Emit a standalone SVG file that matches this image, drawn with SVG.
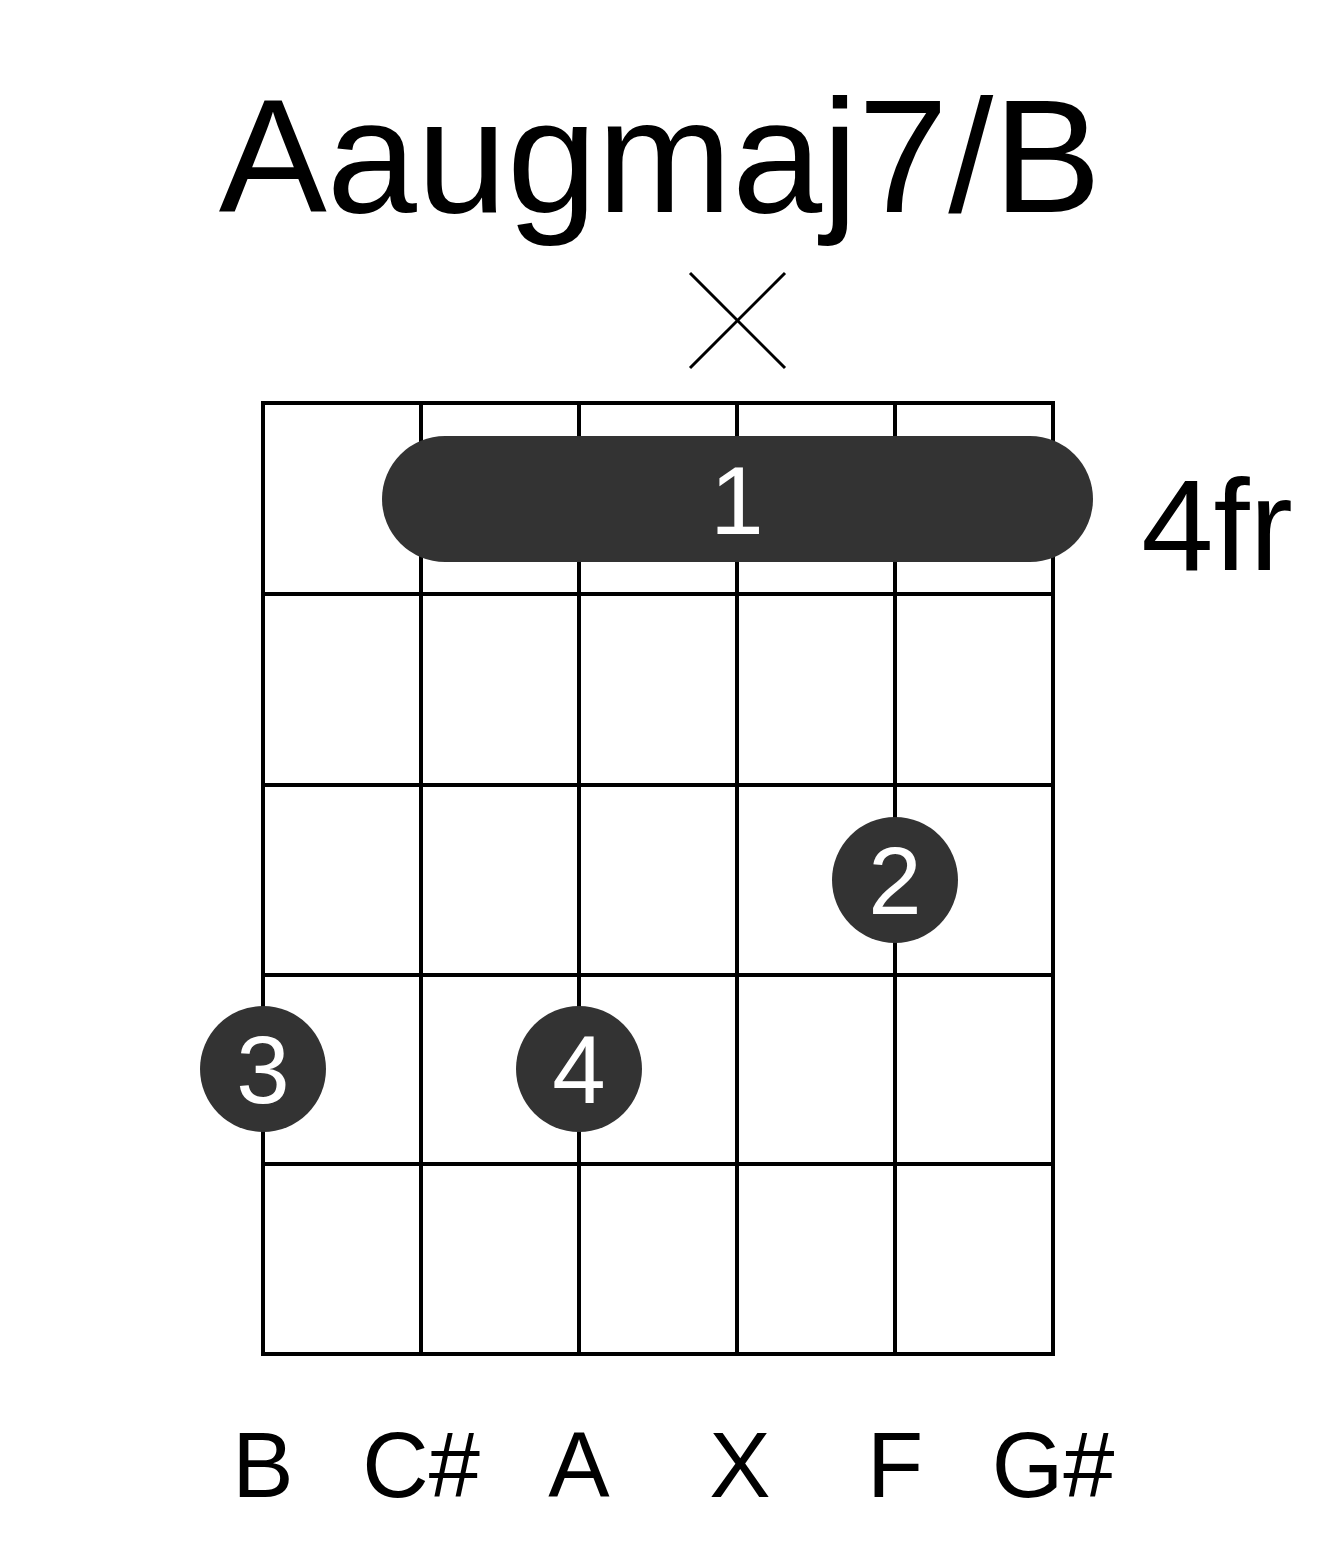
<svg xmlns="http://www.w3.org/2000/svg" width="1317" height="1551" viewBox="0 0 1317 1551">
<style>
.g{stroke:#000;stroke-width:4;fill:none}
.t{font-family:"Liberation Sans",Arial,sans-serif;text-anchor:middle}
.d{fill:#333}
.w{fill:#fff;font-size:96px}
</style>
<rect width="1317" height="1551" fill="#fff"/>
<text class="t" x="660" y="212" font-size="162">Aaugmaj7/B</text>
<g id="grid" class="g">
<rect x="263" y="403" width="790" height="951"/>
<line x1="421" y1="403" x2="421" y2="1354"/><line x1="579" y1="403" x2="579" y2="1354"/><line x1="737" y1="403" x2="737" y2="1354"/><line x1="895" y1="403" x2="895" y2="1354"/>
<line x1="263" y1="594" x2="1053" y2="594"/><line x1="263" y1="785" x2="1053" y2="785"/><line x1="263" y1="975" x2="1053" y2="975"/><line x1="263" y1="1164" x2="1053" y2="1164"/>
</g>
<g id="mute" stroke="#000" stroke-width="3"><line x1="690" y1="273" x2="785" y2="368"/><line x1="785" y1="273" x2="690" y2="368"/></g>
<g id="barre"><rect class="d" x="382" y="436" width="711" height="126" rx="63"/><text class="t w" x="737" y="534">1</text></g>
<g id="f2"><circle class="d" cx="895" cy="880" r="63"/><text class="t w" x="895" y="914">2</text></g>
<g id="f3"><circle class="d" cx="263" cy="1069" r="63"/><text class="t w" x="263" y="1103">3</text></g>
<g id="f4"><circle class="d" cx="579" cy="1069" r="63"/><text class="t w" x="579" y="1103">4</text></g>
<text class="t" x="1217" y="570" font-size="130">4fr</text>
<g id="labels" class="t" font-size="92">
<text x="263" y="1497">B</text><text x="421" y="1497">C#</text><text x="579" y="1497">A</text><text x="740" y="1497">X</text><text x="895" y="1497">F</text><text x="1053" y="1497">G#</text>
</g>
</svg>
